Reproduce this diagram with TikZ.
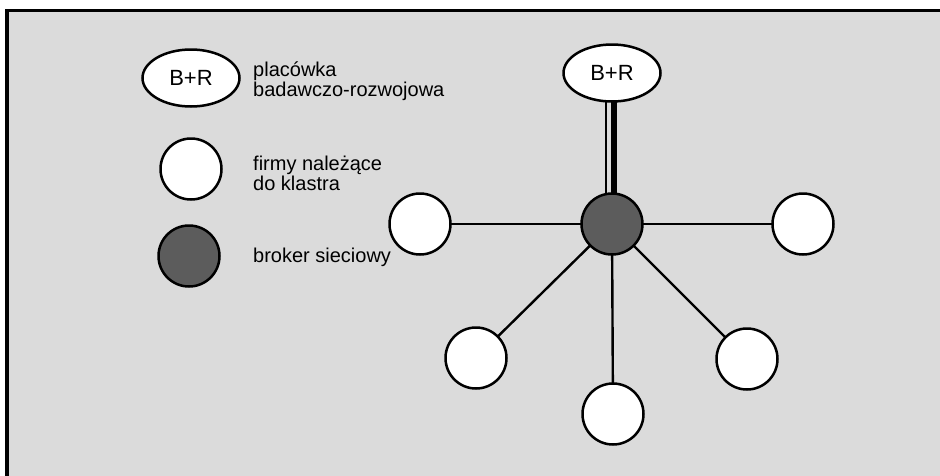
\documentclass[tikz,border=0pt]{standalone}
\usepackage{fontspec}
\setmainfont{Liberation Sans}
\usetikzlibrary{shapes.geometric}
\pgfdeclarelayer{back}
\pgfdeclarelayer{lines}
\pgfsetlayers{back,lines,main}
\definecolor{bggray}{HTML}{DBDBDB}
\definecolor{hubgray}{HTML}{5C5C5C}
\tikzset{
  firm/.style={circle, draw=black, line width=2.5pt, fill=white, minimum size=61pt, inner sep=0pt},
  broker/.style={firm, fill=hubgray},
  lab/.style={ellipse, draw=black, line width=2.5pt, fill=white, minimum width=97pt, minimum height=57pt, inner sep=0pt, font=\fontsize{22}{24}\selectfont},
  legtext/.style={anchor=base west, inner sep=0pt, font=\fontsize{20}{20}\selectfont},
  spoke/.style={line width=2.4pt},
}
\begin{document}
\begin{tikzpicture}[x=1pt,y=-1pt]
\useasboundingbox (0,0) rectangle (940,475);
\begin{pgfonlayer}{back}
\clip (0,0) rectangle (940,475);
\fill[white] (0,0) rectangle (940,475);
\draw[line width=3.5pt, fill=bggray] (7,10.5) rectangle (960,495);
\end{pgfonlayer}
% legend
\node[lab] (lbr) at (191,78) {B+R};
\node[firm] (lfirm) at (191,169) {};
\node[broker] (lbroker) at (189,256) {};
\node[legtext] (t1) at (253,76.5) {placówka};
\node[legtext] (t2) at (253,96) {badawczo-rozwojowa};
\node[legtext] (t3) at (253,170) {firmy należące};
\node[legtext] (t4) at (253,190) {do klastra};
\node[legtext] (t5) at (253,262) {broker sieciowy};
% network
\node[lab] (br) at (612,73) {B+R};
\node[broker] (hub) at (612,224) {};
\node[firm] (fl) at (420,224) {};
\node[firm] (fr) at (803,224) {};
\node[firm] (fll) at (476,358) {};
\node[firm] (fb) at (613,414) {};
\node[firm] (flr) at (747,359) {};
\begin{pgfonlayer}{lines}
\draw[line width=2.6pt] ([xshift=-6pt]br.center) -- ([xshift=-6pt]hub.center);
\draw[line width=6pt] ([xshift=1.7pt]br.center) -- ([xshift=1.7pt]hub.center);
\draw[spoke] (hub.center) -- (fl.center);
\draw[spoke] (hub.center) -- (fr.center);
\draw[spoke] (hub.center) -- (fll.center);
\draw[spoke] (hub.center) -- (fb.center);
\draw[spoke] (hub.center) -- (flr.center);
\end{pgfonlayer}
\end{tikzpicture}
\end{document}
